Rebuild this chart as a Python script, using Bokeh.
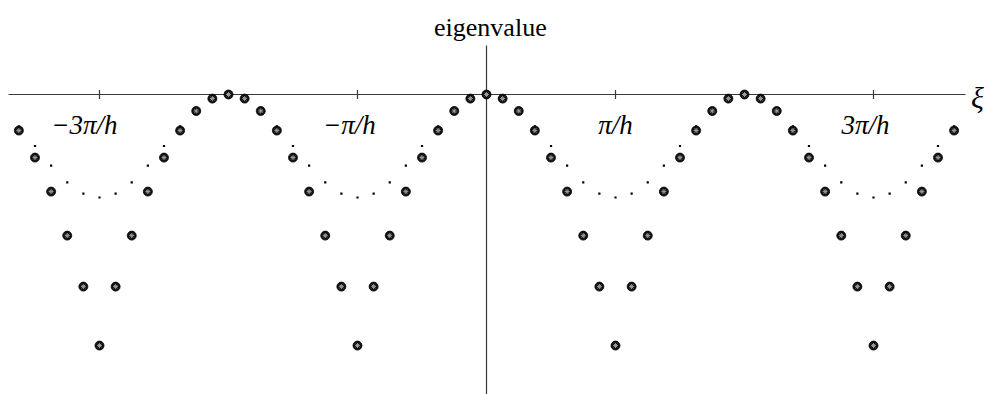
from bokeh.plotting import figure
from bokeh.models import Range1d
from bokeh.core.properties import value
from bokeh.embed import file_html
from bokeh.resources import INLINE

# xi in units of pi/h
xi = [-3.625, -3.5, -3.375, -3.25, -3.125, -3.0, -2.875, -2.75, -2.625, -2.5,
      -2.375, -2.25, -2.125, -2.0, -1.875, -1.75, -1.625, -1.5, -1.375, -1.25,
      -1.125, -1.0, -0.875, -0.75, -0.625, -0.5, -0.375, -0.25, -0.125, 0.0,
      0.125, 0.25, 0.375, 0.5, 0.625, 0.75, 0.875, 1.0, 1.125, 1.25,
      1.375, 1.5, 1.625, 1.75, 1.875, 2.0, 2.125, 2.25, 2.375, 2.5,
      2.625, 2.75, 2.875, 3.0, 3.125, 3.25, 3.375, 3.5, 3.625]

# large markers
eig_markers = [-1.40, -2.45, -3.77, -5.48, -7.46, -9.75,
               -7.46, -5.48, -3.77, -2.45, -1.40, -0.64, -0.16, 0.0,
               -0.16, -0.64, -1.40, -2.45, -3.77, -5.48, -7.46, -9.75,
               -7.46, -5.48, -3.77, -2.45, -1.40, -0.64, -0.16, 0.0,
               -0.16, -0.64, -1.40, -2.45, -3.77, -5.48, -7.46, -9.75,
               -7.46, -5.48, -3.77, -2.45, -1.40, -0.64, -0.16, 0.0,
               -0.16, -0.64, -1.40, -2.45, -3.77, -5.48, -7.46, -9.75,
               -7.46, -5.48, -3.77, -2.45, -1.40]

# small dots
eig_dots = [-1.24, -2.00, -2.76, -3.41, -3.85, -4.00,
            -3.85, -3.41, -2.76, -2.00, -1.24, -0.59, -0.15, 0.0,
            -0.15, -0.59, -1.24, -2.00, -2.76, -3.41, -3.85, -4.00,
            -3.85, -3.41, -2.76, -2.00, -1.24, -0.59, -0.15, 0.0,
            -0.15, -0.59, -1.24, -2.00, -2.76, -3.41, -3.85, -4.00,
            -3.85, -3.41, -2.76, -2.00, -1.24, -0.59, -0.15, 0.0,
            -0.15, -0.59, -1.24, -2.00, -2.76, -3.41, -3.85, -4.00,
            -3.85, -3.41, -2.76, -2.00, -1.24]

tick_values = [-3, -1, 1, 3]
tick_labels = ["−3π/h", "−π/h", "π/h", "3π/h"]
tick_label_shift = [-15, -8, 0, -8]

X0, X1 = -3.7674, 3.8992
Y0, Y1 = -11.650, 3.6505

p = figure(width=989, height=394, output_backend="svg", toolbar_location=None,
           x_axis_location=None, y_axis_location=None, min_border=0,
           outline_line_color=None, x_range=Range1d(X0, X1), y_range=Range1d(Y0, Y1))
p.grid.visible = False
p.background_fill_color = "white"

axis_col = "#3a3a3a"
# axes through origin
p.segment(x0=[-3.7054], y0=[0], x1=[3.713], y1=[0], line_color=axis_col, line_width=1.2)
p.segment(x0=[0], y0=[Y0], x1=[0], y1=[1.90], line_color=axis_col, line_width=1.2)
# tick marks
p.scatter(x=tick_values, y=[0] * len(tick_values), marker="dash", angle=1.5708,
          size=9, line_color=axis_col, line_width=1.2)

# tick labels
p.text(x=tick_values, y=[-1.20] * len(tick_values), text=tick_labels,
       x_offset=tick_label_shift,
       text_font=value("Liberation Serif"), text_font_style="italic",
       text_font_size="27px", text_align="center", text_baseline="alphabetic",
       text_color="black")

# axis titles
p.text(x=[0.03], y=[2.60], text=["eigenvalue"], text_font=value("Liberation Serif"),
       text_font_size="26px", text_align="center", text_baseline="alphabetic",
       text_color="black")
p.text(x=[3.806], y=[-0.10], text=["ξ"], text_font=value("Liberation Serif"),
       text_font_style="italic", text_font_size="30px", text_align="center",
       text_baseline="middle", text_color="black")

# data
p.scatter(x=xi, y=eig_dots, marker="square", size=2.2, fill_color="black",
          line_color=None)
p.scatter(x=xi, y=eig_markers, marker="circle", size=9, fill_color="#111111",
          line_color="#000000", line_width=0.8)
p.scatter(x=xi, y=eig_markers, marker="asterisk", size=5, line_color="#9a9a9a",
          line_width=1)

open("out.html", "w").write(file_html(p, INLINE))
